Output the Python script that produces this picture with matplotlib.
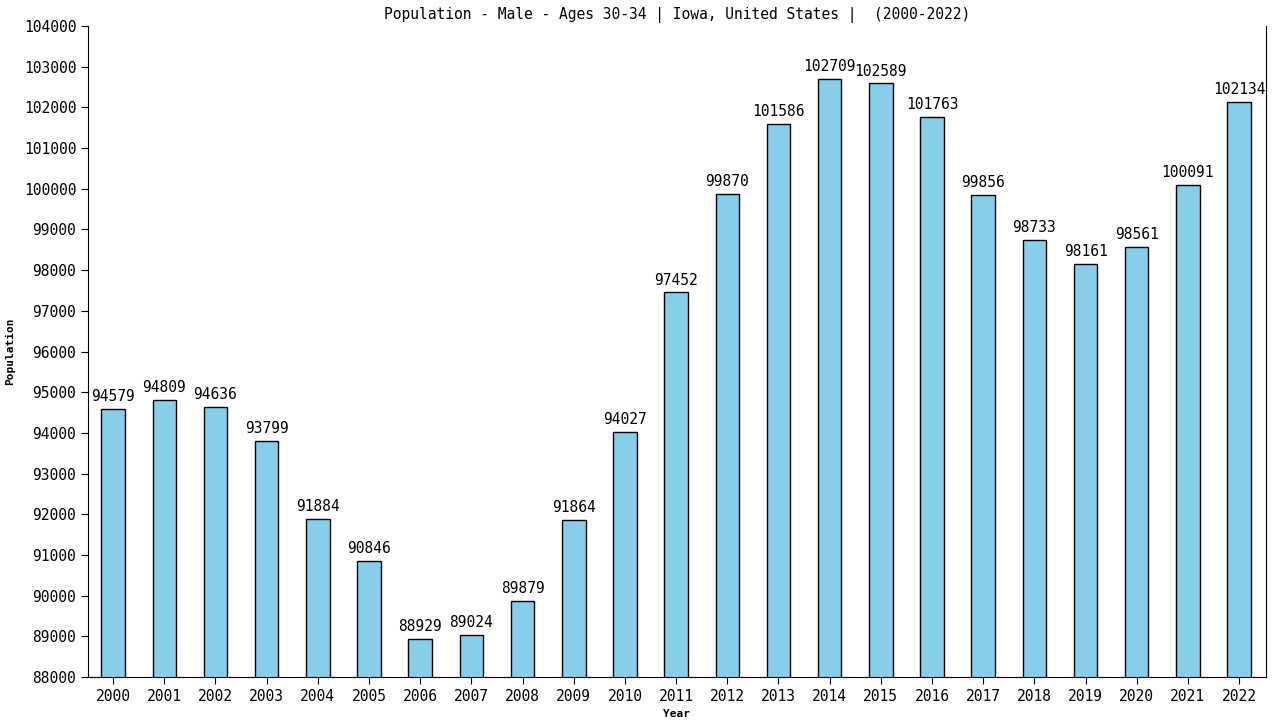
import matplotlib.pyplot as plt

years = [str(y) for y in range(2000, 2023)]
population = [94579, 94809, 94636, 93799, 91884, 90846, 88929, 89024, 89879, 91864,
              94027, 97452, 99870, 101586, 102709, 102589, 101763, 99856, 98733, 98161,
              98561, 100091, 102134]

plt.rcParams['font.family'] = ['DejaVu Sans Mono']

fig = plt.figure(figsize=(12.8, 7.2), dpi=100)
ax = fig.add_axes([0.0688, 0.0597, 0.92, 0.9042])

x = range(len(years))
ax.bar(x, population, width=0.46, color='#87ceeb', edgecolor='black', linewidth=1, bottom=0)
for i, v in enumerate(population):
    ax.text(i, v + 120, str(v), ha='center', va='bottom', fontsize=10.5)

ax.set_ylim(88000, 104000)
ax.set_xlim(-0.49, 22.52)
ax.set_yticks(range(88000, 104001, 1000))
ax.set_xticks(list(x))
ax.set_xticklabels(years)
ax.tick_params(labelsize=10.5, length=5)
ax.spines['top'].set_visible(False)

ax.set_title('Population - Male - Ages 30-34 | Iowa, United States |  (2000-2022)',
             fontsize=10.5, pad=5)
ax.set_xlabel('Year', fontsize=8, fontweight='bold', labelpad=4)
ax.set_ylabel('Population', fontsize=8, fontweight='bold', labelpad=6)

fig.savefig('out.png', dpi=100)
